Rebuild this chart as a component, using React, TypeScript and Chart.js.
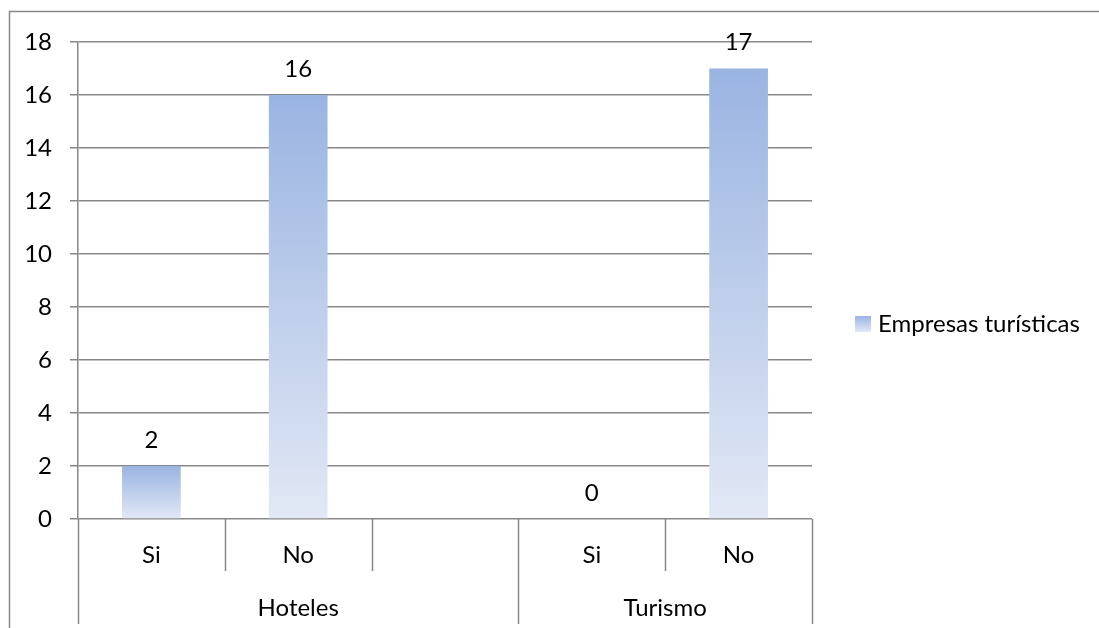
import React, { useEffect, useRef } from 'react';
import { Chart, registerables } from 'chart.js';

Chart.register(...registerables);

const categories = ['Si', 'No', '', 'Si', 'No'];
const groups = ['Hoteles', 'Turismo'];
const groupSpans = [3, 2];
const values: (number | null)[] = [2, 16, null, 0, 17];
const seriesName = 'Empresas turísticas';
const yMin = 0;
const yMax = 18;
const yStep = 2;

const FONT = 'Lato, "Noto Sans", sans-serif';
const FS = 24;
const LINE = '#878787';
const TOP_COLOR = '#9ab4e2';
const BOTTOM_COLOR = '#e2e8f5';

function barGradient(ctx: CanvasRenderingContext2D, top: number, bottom: number) {
  const g = ctx.createLinearGradient(0, top, 0, bottom);
  g.addColorStop(0, TOP_COLOR);
  g.addColorStop(1, BOTTOM_COLOR);
  return g;
}

const decorPlugin = {
  id: 'decor',
  afterDraw(chart: any) {
    const ctx: CanvasRenderingContext2D = chart.ctx;
    const x = chart.scales.x;
    const y = chart.scales.y;
    const area = chart.chartArea;
    ctx.save();
    // outer frame
    ctx.strokeStyle = LINE;
    ctx.lineWidth = 1.5;
    ctx.strokeRect(9.5, 11.5, chart.width + 20, chart.height + 20);

    const n = categories.length;
    const w = (area.right - area.left) / n;
    const base = y.getPixelForValue(0);
    const shortEnd = base + 52;
    const longEnd = base + 105;

    // category dividers
    ctx.lineWidth = 1.5;
    ctx.strokeStyle = LINE;
    const groupBounds = new Set<number>();
    let acc = 0;
    groupBounds.add(0);
    groupSpans.forEach((s) => {
      acc += s;
      groupBounds.add(acc);
    });
    for (let i = 0; i <= n; i++) {
      const px = Math.round(x.getPixelForValue(i) - w / 2);
      const end = groupBounds.has(i) ? longEnd : shortEnd;
      ctx.beginPath();
      ctx.moveTo(px + 0.5, base);
      ctx.lineTo(px + 0.5, end);
      ctx.stroke();
    }

    ctx.fillStyle = '#000';
    ctx.font = `${FS}px ${FONT}`;
    ctx.textAlign = 'center';
    ctx.textBaseline = 'middle';
    categories.forEach((c, i) => {
      if (c) ctx.fillText(c, x.getPixelForValue(i), base + 36);
    });
    let start = 0;
    groups.forEach((g, gi) => {
      const l = x.getPixelForValue(start) - w / 2;
      const r = x.getPixelForValue(start + groupSpans[gi] - 1) + w / 2;
      ctx.fillText(g, (l + r) / 2, base + 89);
      start += groupSpans[gi];
    });

    // data labels
    const meta = chart.getDatasetMeta(0);
    meta.data.forEach((el: any, i: number) => {
      const v = values[i];
      if (v === null || v === undefined) return;
      ctx.fillText(String(v), el.x, el.y - 26);
    });

    // legend
    const lx = 855;
    const ly = 316;
    ctx.fillStyle = barGradient(ctx, ly, ly + 16);
    ctx.fillRect(lx, ly, 16, 16);
    ctx.fillStyle = '#000';
    ctx.textAlign = 'left';
    ctx.fillText(seriesName, 878, ly + 8);
    ctx.restore();
  },
};

export default function App() {
  const ref = useRef<HTMLCanvasElement | null>(null);
  useEffect(() => {
    if (!ref.current) return;
    const chart = new Chart(ref.current, {
      type: 'bar',
      data: {
        labels: categories,
        datasets: [
          {
            label: seriesName,
            data: values as any,
            categoryPercentage: 1,
            barPercentage: 0.4,
            backgroundColor: (c: any) => {
              const ch = c.chart;
              const ys = ch.scales?.y;
              const v = values[c.dataIndex];
              if (!ys || v === null || v === undefined) return TOP_COLOR;
              const top = ys.getPixelForValue(v);
              const bottom = ys.getPixelForValue(0);
              if (!isFinite(top) || !isFinite(bottom) || top === bottom) return TOP_COLOR;
              return barGradient(ch.ctx, top, bottom);
            },
            borderWidth: 0,
          },
        ],
      },
      options: {
        responsive: false,
        animation: false,
        layout: { padding: { top: 42, right: 287, bottom: 109, left: 0 } },
        plugins: { legend: { display: false }, tooltip: { enabled: false } },
        scales: {
          x: { display: false, offset: true },
          y: {
            min: yMin,
            max: yMax,
            afterFit: (s: any) => {
              s.width = 78;
            },
            ticks: {
              stepSize: yStep,
              color: '#000',
              font: { family: FONT, size: FS },
              padding: 18,
            },
            grid: { color: LINE, lineWidth: 1.5, tickLength: 8 },
            border: { color: LINE, width: 1.5 },
          },
        },
      },
      plugins: [decorPlugin],
    });
    return () => chart.destroy();
  }, []);
  return (
    <div style={{ position: 'fixed', left: 0, top: 0, width: 1099, height: 628, background: '#fff' }}>
      <canvas ref={ref} width={1099} height={628} style={{ display: 'block' }} />
    </div>
  );
}
